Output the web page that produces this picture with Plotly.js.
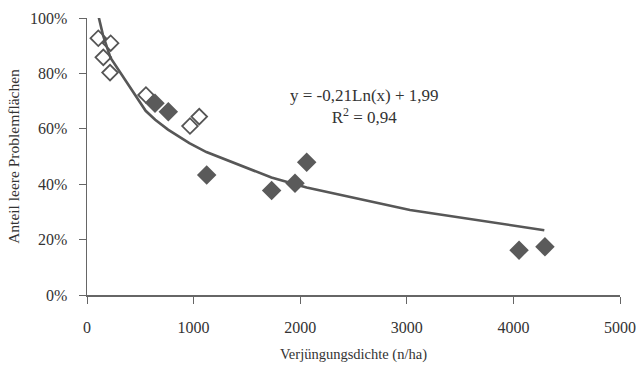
<!DOCTYPE html>
<html><head><meta charset="utf-8">
<script src="https://cdn.plot.ly/plotly-3.0.1.min.js"></script>
<style>html,body{margin:0;padding:0;background:#fff}#c{width:636px;height:367px}</style>
</head><body><div id="c"></div>
<script>
// open diamonds
const openX = [106, 153, 216, 222, 553, 966, 1053];
const openY = [0.927, 0.858, 0.803, 0.909, 0.722, 0.610, 0.644];
// filled diamonds
const fillX = [638, 763, 1123, 1732, 1951, 2061, 4053, 4296];
const fillY = [0.692, 0.662, 0.433, 0.377, 0.403, 0.479, 0.162, 0.174];
// logarithmic trend line
const trendX = [110, 150, 220, 550, 640, 760, 960, 1050, 1120, 1730, 1950, 2060, 3030, 4050, 4290];
const trendY = [1.003, 0.938, 0.857, 0.665, 0.633, 0.597, 0.548, 0.529, 0.516, 0.424, 0.399, 0.388, 0.307, 0.246, 0.234];
const xTicks = [0, 1000, 2000, 3000, 4000, 5000];
const yTicks = [0, 0.2, 0.4, 0.6, 0.8, 1.0];
const yTickText = ['0%', '20%', '40%', '60%', '80%', '100%'];

const fam = 'Liberation Serif, Times New Roman, serif';
const txt = '#333';
const data = [
  {x: trendX, y: trendY, mode: 'lines', line: {color: '#575757', width: 2.6}, hoverinfo: 'skip'},
  {x: openX, y: openY, mode: 'markers', marker: {symbol: 'diamond-open', size: 12, color: '#555', line: {width: 1.8, color: '#555'}}},
  {x: fillX, y: fillY, mode: 'markers', marker: {symbol: 'diamond', size: 15, color: '#5a5a5a'}}
];
const layout = {
  width: 636, height: 367, showlegend: false,
  paper_bgcolor: '#fff', plot_bgcolor: '#fff',
  margin: {l: 87, r: 16, t: 18, b: 72},
  font: {family: fam, color: txt, size: 15},
  xaxis: {range: [0, 5000], tickvals: xTicks, showgrid: false, zeroline: false,
    showline: true, linecolor: '#666', linewidth: 1.5, ticks: 'outside', ticklen: 7, tickcolor: '#666',
    ticklabelstandoff: 10,
    tickfont: {family: fam, size: 16, color: txt},
    title: {text: 'Verjüngungsdichte (n/ha)', font: {family: fam, size: 14.5, color: txt}, standoff: 14}},
  yaxis: {range: [0, 1.0], tickvals: yTicks, ticktext: yTickText, showgrid: false, zeroline: false,
    showline: true, linecolor: '#666', linewidth: 1.5, ticks: 'outside', ticklen: 7, tickcolor: '#666',
    ticklabelstandoff: 8,
    tickfont: {family: fam, size: 16, color: txt},
    title: {text: 'Anteil leere Problemflächen', font: {family: fam, size: 15.5, color: txt}, standoff: 6}},
  annotations: [
    {x: 2600, y: 0.682, xref: 'x', yref: 'y', text: 'y = -0,21Ln(x) + 1,99<br>R<sup>2</sup> = 0,94', align: 'center', showarrow: false, font: {family: fam, size: 17, color: txt}}
  ]
};
Plotly.newPlot('c', data, layout, {displayModeBar: false, staticPlot: true});
</script></body></html>
